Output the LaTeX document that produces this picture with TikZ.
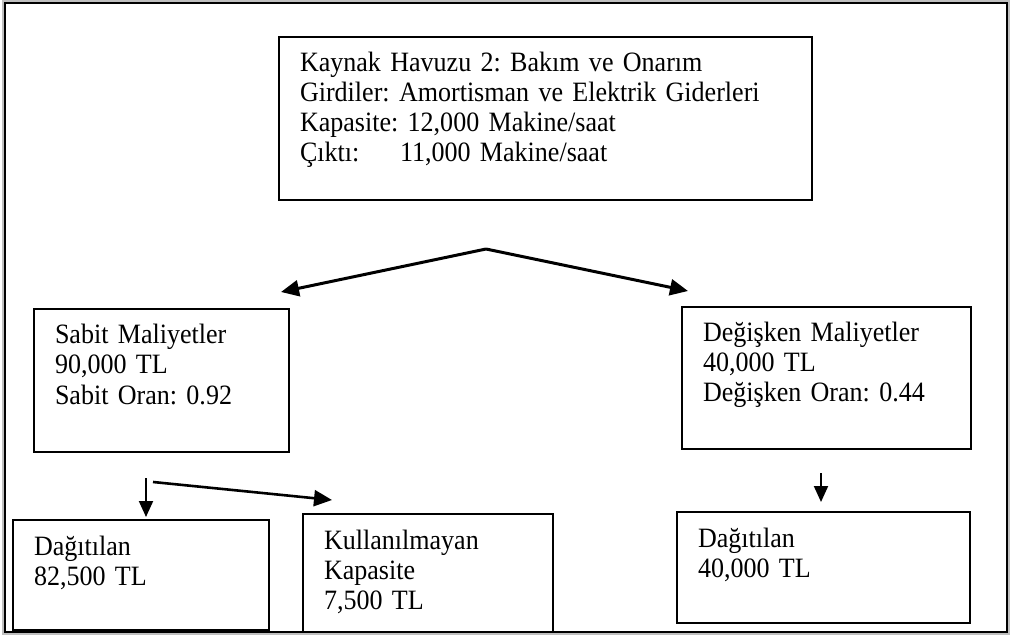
\documentclass[tikz,border=0pt]{standalone}
\usepackage{fontspec}
\setmainfont{Liberation Serif}[FakeStretch=0.93]
\usetikzlibrary{arrows.meta}
\frenchspacing

\tikzset{
  cell/.style 2 args={draw, line width=1pt, anchor=north west, align=left,
    inner xsep=10.5pt, inner ysep=0pt, text height=17.5pt,
    text width=#1, text depth=#2, font=\fontsize{14}{15}\selectfont},
  flow/.style={line width=1.5pt, -{Triangle[length=9pt, width=8pt]}},
  drop/.style={line width=1pt, -{Triangle[length=8pt, width=7pt]}}
}

\begin{document}
\begin{tikzpicture}[x=0.5pt, y=-0.5pt]
    \useasboundingbox (0,0) rectangle (1010,635);
    \draw[gray!50, line width=1pt] (3,1) rectangle (1009,634);
    \draw[line width=1pt] (5,3) rectangle (1007,632);

    \node[cell={245.5pt}{64pt}] (pool) at (278,36) {%
      Kaynak Havuzu 2: Bakım ve Onarım\\
      Girdiler: Amortisman ve Elektrik Giderleri\\
      Kapasite: 12,000 Makine/saat\\
      \makebox[50pt][l]{Çıktı:}11,000 Makine/saat
    };
    \node[cell={106.5pt}{54pt}] (fixed) at (33,308) {%
      Sabit Maliyetler\\
      90,000 TL\\
      Sabit Oran: 0.92
    };
    \node[cell={123.5pt}{53.5pt}] (variable) at (681,306) {%
      Değişken Maliyetler\\
      40,000 TL\\
      Değişken Oran: 0.44
    };
    \node[cell={107pt}{37.5pt}] (fixedused) at (12,519) {%
      Dağıtılan\\
      82,500 TL
    };
    \node[cell={104pt}{41.5pt}] (idle) at (302,513) {%
      Kullanılmayan\\
      Kapasite\\
      7,500 TL
    };
    \node[cell={125.5pt}{38pt}] (varused) at (676,511) {%
      Dağıtılan\\
      40,000 TL
    };

    % free arrow ends
    \coordinate (fork) at (486,249);
    \coordinate (forkL) at (281,292);
    \coordinate (forkR) at (688,291);
    \coordinate (splitA) at (146,478);
    \coordinate (splitB) at (153,482);
    \coordinate (toUsed) at (146,517);
    \coordinate (toIdle) at (332,500);
    \coordinate (varTop) at (821,473);
    \coordinate (varEnd) at (821,502);

    \draw[flow] (fork) -- (forkL);
    \draw[flow] (fork) -- (forkR);
    \draw[drop] (splitA) -- (toUsed);
    \draw[flow, line width=1.3pt] (splitB) -- (toIdle);
    \draw[drop] (varTop) -- (varEnd);
  \end{tikzpicture}
\end{document}
